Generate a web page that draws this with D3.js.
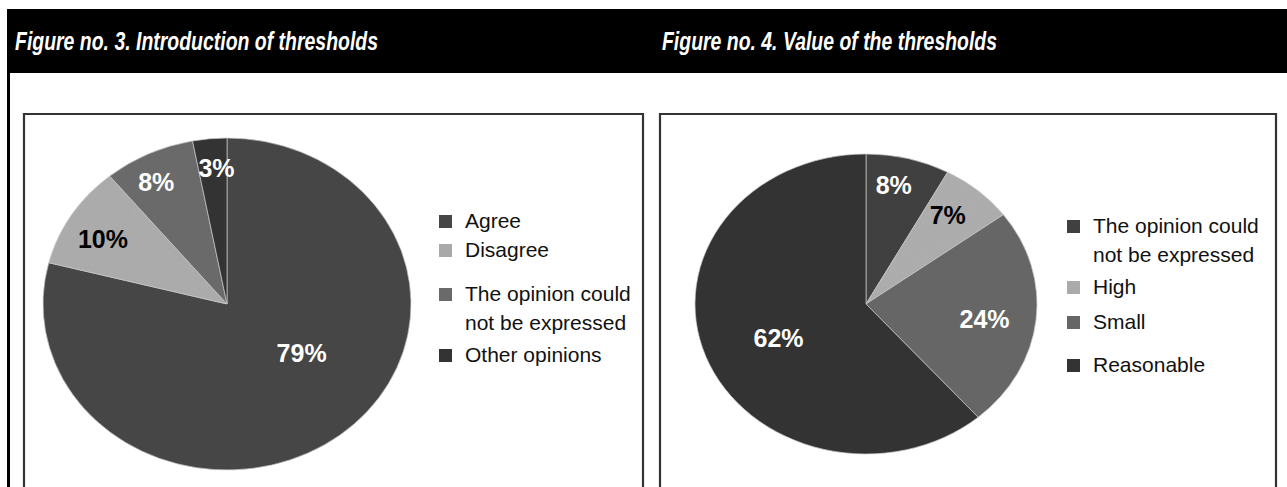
<!DOCTYPE html>
<html>
<head>
<meta charset="utf-8">
<script src="https://cdn.jsdelivr.net/npm/d3@7/dist/d3.min.js"></script>
<style>
  html, body { margin: 0; padding: 0; background: #fff; }
  svg { display: block; }
</style>
</head>
<body>
<svg id="chart" width="1287" height="487"></svg>
<script>
// ---------- data ----------
const fig3Title = "Figure no. 3. Introduction of thresholds";
const fig3Categories = ["Agree", "Disagree", "The opinion could not be expressed", "Other opinions"];
const fig3Values = [79, 10, 8, 3];
const fig3LegendLines = [["Agree"], ["Disagree"], ["The opinion could", "not be expressed"], ["Other opinions"]];

const fig4Title = "Figure no. 4. Value of the thresholds";
const fig4Categories = ["The opinion could not be expressed", "High", "Small", "Reasonable"];
const fig4Values = [8, 7, 24, 62];
const fig4LegendLines = [["The opinion could", "not be expressed"], ["High"], ["Small"], ["Reasonable"]];

// ---------- styling / layout ----------
const fig3Colors = ["#464646", "#a9a9a9", "#6a6a6a", "#333333"];
const fig3LabelColors = ["#fff", "#000", "#fff", "#fff"];
const fig3LabelFrac = [0.5, 0.78, 0.83, 0.82];
const fig3LabelShift = [-16.4, -2.2, -2.4, 1.4];
const fig3LegendRowY = [228, 257, 301, 362];

const fig4Colors = ["#404040", "#aaaaaa", "#666666", "#333333"];
const fig4LabelColors = ["#fff", "#000", "#fff", "#fff"];
const fig4LabelFrac = [0.81, 0.76, 0.70, 0.56];
const fig4LabelShift = [-2.7, -2.0, 1.8, -3.6];
const fig4LegendRowY = [233, 294, 329, 372];

const svg = d3.select("#chart");

// noise texture for the light slices
const defs = svg.append("defs");
const flt = defs.append("filter").attr("id", "grain").attr("x", 0).attr("y", 0).attr("width", 1).attr("height", 1);
flt.append("feTurbulence").attr("type", "fractalNoise").attr("baseFrequency", 1.2).attr("numOctaves", 1).attr("seed", 3).attr("result", "noise");
flt.append("feColorMatrix").attr("in", "noise").attr("type", "matrix")
  .attr("values", "0 0 0 0 0.5  0 0 0 0 0.5  0 0 0 0 0.5  0 0 0 0.35 -0.05").attr("result", "n2");
flt.append("feComposite").attr("in", "n2").attr("in2", "SourceGraphic").attr("operator", "in").attr("result", "n3");
flt.append("feMerge").selectAll("feMergeNode").data(["SourceGraphic", "n3"]).join("feMergeNode").attr("in", d => d);

// header bar
svg.append("rect").attr("x", 7).attr("y", 9).attr("width", 1280).attr("height", 64).attr("fill", "#000");
// outer left border
svg.append("rect").attr("x", 7).attr("y", 9).attr("width", 3).attr("height", 478).attr("fill", "#000");

function title(text, x, width) {
  svg.append("text")
    .attr("x", x).attr("y", 50)
    .attr("fill", "#fff")
    .attr("font-family", "'Liberation Sans Narrow', 'Liberation Sans', Arial, sans-serif")
    .attr("font-weight", "bold")
    .attr("font-style", "italic")
    .attr("font-size", 26)
    .attr("textLength", width)
    .attr("lengthAdjust", "spacingAndGlyphs")
    .text(text);
}
title(fig3Title, 15, 363);
title(fig4Title, 662, 335);

// chart boxes
function box(x0, x1) {
  svg.append("path")
    .attr("d", `M${x0},${495} L${x0},${114} L${x1},${114} L${x1},${495}`)
    .attr("fill", "none").attr("stroke", "#333").attr("stroke-width", 2.2);
}
box(24, 643);
box(660, 1276);

function drawPie(opts) {
  const { values, categories, colors, labelColors, labelFrac, labelShift, cx, cy, rx, ry,
          legendLines, legendRowY, legendSquareX, legendTextX, grainIndex } = opts;
  const pie = d3.pie().sort(null).value(d => d)(values);
  const arc = d3.arc().innerRadius(0).outerRadius(rx);
  const k = ry / rx;
  const g = svg.append("g").attr("transform", `translate(${cx},${cy}) scale(1,${k})`);
  g.selectAll("path").data(pie).join("path")
    .attr("d", arc)
    .attr("fill", (d, i) => colors[i])
    .attr("filter", (d, i) => i === grainIndex ? "url(#grain)" : null)
    .attr("stroke", "#c8c8c8")
    .attr("stroke-width", 0.7)
    .attr("vector-effect", "non-scaling-stroke");

  svg.selectAll(null).data(pie).join("text")
    .attr("x", (d, i) => {
      const a = (d.startAngle + d.endAngle) / 2 + labelShift[i] * Math.PI / 180;
      return cx + labelFrac[i] * rx * Math.sin(a);
    })
    .attr("y", (d, i) => {
      const a = (d.startAngle + d.endAngle) / 2 + labelShift[i] * Math.PI / 180;
      return cy - labelFrac[i] * rx * Math.cos(a) * k;
    })
    .attr("text-anchor", "middle")
    .attr("dominant-baseline", "central")
    .attr("font-family", "'Liberation Sans Narrow', 'Liberation Sans', Arial, sans-serif")
    .attr("font-weight", "bold")
    .attr("font-size", 25)
    .attr("fill", (d, i) => labelColors[i])
    .text(d => d3.format(".0f")(d.value) + "%");

  // legend
  const lg = svg.append("g");
  legendLines.forEach((lines, i) => {
    const y0 = legendRowY[i];
    lg.append("rect")
      .attr("x", legendSquareX).attr("y", y0 - 13)
      .attr("width", 13).attr("height", 13)
      .attr("fill", colors[i]);
    const t = lg.append("text")
      .attr("x", legendTextX).attr("y", y0)
      .attr("font-family", "'Liberation Sans', Arial, sans-serif")
      .attr("font-size", 21)
      .attr("fill", "#111");
    lines.forEach((ln, j) => {
      t.append("tspan").attr("x", legendTextX).attr("dy", j === 0 ? 0 : 28.5).text(ln);
    });
  });
}

drawPie({
  values: fig3Values, categories: fig3Categories, colors: fig3Colors,
  labelColors: fig3LabelColors, labelFrac: fig3LabelFrac, labelShift: fig3LabelShift,
  cx: 227, cy: 304, rx: 184, ry: 166,
  legendLines: fig3LegendLines, legendRowY: fig3LegendRowY,
  legendSquareX: 439, legendTextX: 465, grainIndex: 1
});

drawPie({
  values: fig4Values, categories: fig4Categories, colors: fig4Colors,
  labelColors: fig4LabelColors, labelFrac: fig4LabelFrac, labelShift: fig4LabelShift,
  cx: 866, cy: 304, rx: 171, ry: 150,
  legendLines: fig4LegendLines, legendRowY: fig4LegendRowY,
  legendSquareX: 1067, legendTextX: 1093, grainIndex: 1
});
</script>
</body>
</html>
